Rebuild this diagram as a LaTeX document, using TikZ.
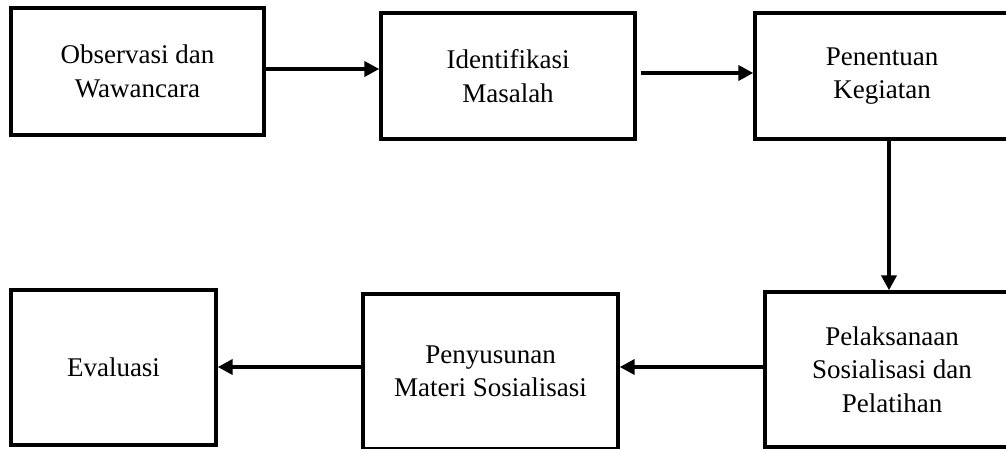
\documentclass[tikz,border=0pt]{standalone}
\usepackage{fontspec}
\setmainfont{Liberation Serif}
\usetikzlibrary{arrows.meta}
\begin{document}
\begin{tikzpicture}[x=1pt,y=-1pt,
  stepbox/.style={draw=black, line width=3.4pt, inner sep=0pt, align=center,
    font=\fontsize{27}{33.5}\selectfont},
  arr/.style={line width=3.8pt, -{Triangle[length=15pt,width=15pt]}}]
\useasboundingbox (0,0) rectangle (1006,448);
\clip (0,0) rectangle (1006,448);
\node[stepbox, minimum width=253pt, minimum height=127pt] (b1) at (137.5,71.5) {Observasi dan\\Wawancara};
\node[stepbox, minimum width=254pt, minimum height=126pt] (b2) at (508,76) {Identifikasi\\Masalah};
\node[stepbox, minimum width=254pt, minimum height=126pt] (b3) at (882,76) {Penentuan\\Kegiatan};
\node[stepbox, minimum width=205pt, minimum height=155pt] (b4) at (113.5,367.5) {Evaluasi};
\node[stepbox, minimum width=255pt, minimum height=155pt] (b5) at (490.5,371.5) {Penyusunan\\Materi Sosialisasi};
\node[stepbox, minimum width=254pt, minimum height=155pt] (b6) at (892,369.5) {Pelaksanaan\\Sosialisasi dan\\Pelatihan};
\draw[arr] (b1.east |- 0,69) -- (b2.west |- 0,69);
\draw[arr] ([xshift=4pt]b2.east |- 0,73) -- (b3.west |- 0,73);
\draw[arr] (b3.south -| 889,0) -- (b6.north -| 889,0);
\draw[arr] (b6.west |- 0,367) -- (b5.east |- 0,367);
\draw[arr] (b5.west |- 0,367) -- (b4.east |- 0,367);
\end{tikzpicture}
\end{document}
